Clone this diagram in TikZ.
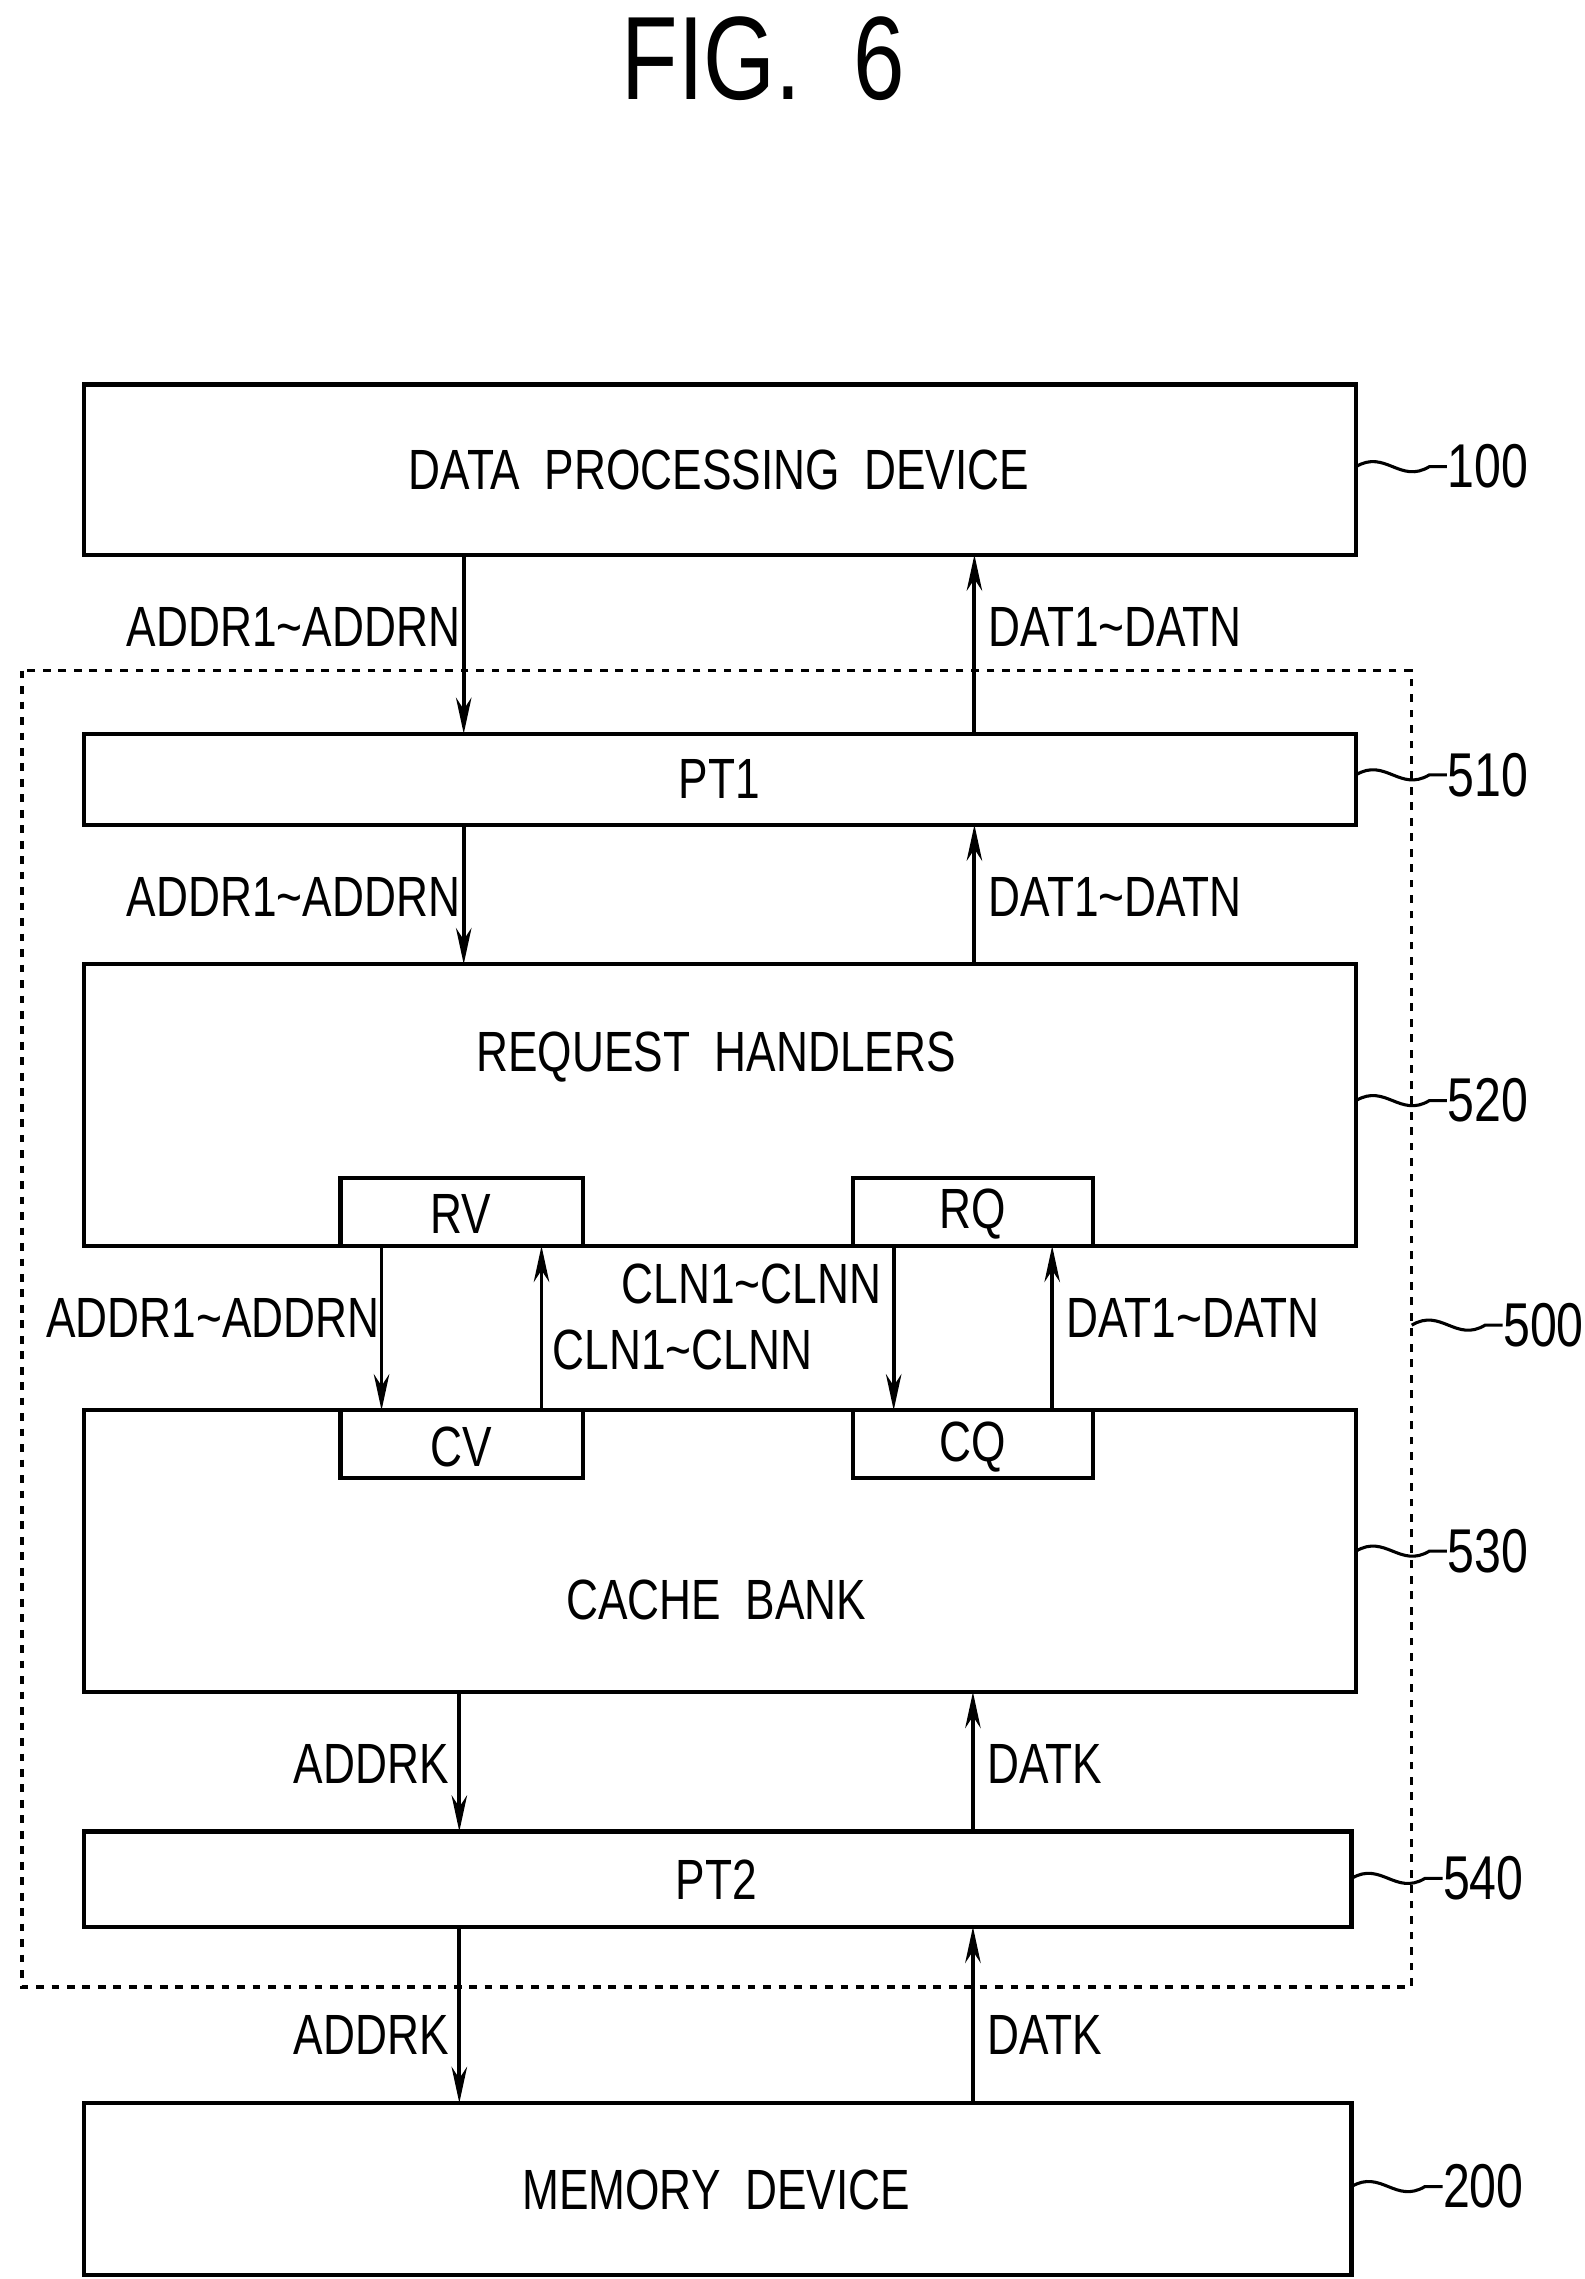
\documentclass[tikz,border=0pt]{standalone}
\usepackage{fontspec}
\setmainfont{Liberation Sans}[FakeStretch=0.78]
\usetikzlibrary{arrows.meta}
\begin{document}
\begin{tikzpicture}[x=0.02cm,y=-0.02cm,
  box/.style={draw,line width=1.6pt},
  t/.style={font=\fontsize{22}{24}\selectfont,inner sep=0pt},
  ref/.style={font=\fontsize{24}{26}\selectfont,inner sep=0pt,anchor=west},
  ar/.style={line width=1.5pt,-{Stealth[length=14pt,width=6pt]}},
  sq/.style={line width=1.2pt}]
\useasboundingbox (0,0) rectangle (1080,1553);
\node[font=\fontsize{46}{50}\selectfont,inner sep=0pt] (title) at (520,40) {FIG.\ \ 6};
% boxes
\draw[box] (57,262) rectangle (924,378);
\node[t] (dpd) at (490,320) {DATA\ \ PROCESSING\ \ DEVICE};
\draw[box,dashed,line width=1.3pt] (15,457) rectangle (962,1354);
\draw[box] (57,500) rectangle (924,562);
\node[t] (pt1) at (490,531) {PT1};
\draw[box] (57,657) rectangle (924,849);
\node[t] (rh) at (488,720) {REQUEST\ \ HANDLERS};
\draw[box] (232,803) rectangle (397,849); \node[t] (rv) at (314,827) {RV};
\draw[box] (581,803) rectangle (745,849); \node[t] (rq) at (663,827) {RQ};
\draw[box] (57,961) rectangle (924,1153);
\draw[box] (232,961) rectangle (397,1007); \node[t] (cv) at (314,986) {CV};
\draw[box] (581,961) rectangle (745,1007); \node[t] (cq) at (663,986) {CQ};
\node[t] (cb) at (488,1090) {CACHE\ \ BANK};
\draw[box] (57,1248) rectangle (921,1313);
\node[t] (pt2) at (488,1281) {PT2};
\draw[box] (57,1433) rectangle (921,1550);
\node[t] (mem) at (488,1492) {MEMORY\ \ DEVICE};
% arrows
\coordinate (a1) at (316,378); \coordinate (a2) at (316,500);
\draw[ar] (a1)--(a2); \node[t] at (200,427) {ADDR1\textasciitilde ADDRN};
\coordinate (b1) at (664,500); \coordinate (b2) at (664,378);
\draw[ar] (b1)--(b2); \node[t] at (760,427) {DAT1\textasciitilde DATN};
\coordinate (c1) at (316,562); \coordinate (c2) at (316,657);
\draw[ar] (c1)--(c2); \node[t] at (200,611) {ADDR1\textasciitilde ADDRN};
\coordinate (d1) at (664,657); \coordinate (d2) at (664,562);
\draw[ar] (d1)--(d2); \node[t] at (760,611) {DAT1\textasciitilde DATN};
\coordinate (e1) at (260,849); \coordinate (e2) at (260,961);
\draw[ar] (e1)--(e2); \node[t] at (145,898) {ADDR1\textasciitilde ADDRN};
\coordinate (f1) at (369,961); \coordinate (f2) at (369,849);
\draw[ar] (f1)--(f2); \node[t] at (465,920) {CLN1\textasciitilde CLNN};
\coordinate (g1) at (609,849); \coordinate (g2) at (609,961);
\draw[ar] (g1)--(g2); \node[t] at (512,875) {CLN1\textasciitilde CLNN};
\coordinate (h1) at (717,961); \coordinate (h2) at (717,849);
\draw[ar] (h1)--(h2); \node[t] at (813,898) {DAT1\textasciitilde DATN};
\coordinate (i1) at (313,1153); \coordinate (i2) at (313,1248);
\draw[ar] (i1)--(i2); \node[t] at (253,1202) {ADDRK};
\coordinate (j1) at (663,1248); \coordinate (j2) at (663,1153);
\draw[ar] (j1)--(j2); \node[t] at (712,1202) {DATK};
\coordinate (k1) at (313,1313); \coordinate (k2) at (313,1433);
\draw[ar] (k1)--(k2); \node[t] at (253,1387) {ADDRK};
\coordinate (l1) at (663,1433); \coordinate (l2) at (663,1313);
\draw[ar] (l1)--(l2); \node[t] at (712,1387) {DATK};
% reference labels
\foreach \n/\y/\xs in {100/318/924,510/528/924,520/750/924,530/1057/924,540/1280/921,200/1490/921,500/903/962}{
  \pgfmathsetmacro{\xe}{\xs+62}
  \node[ref] (r\n) at (\xe,\y) {\n};
  \draw[sq] (\xs,\y) .. controls (\xs+20,\y-12) and (\xs+30,\y+12) .. (\xe-12,\y) -- (r\n.west);
}
\end{tikzpicture}
\end{document}
